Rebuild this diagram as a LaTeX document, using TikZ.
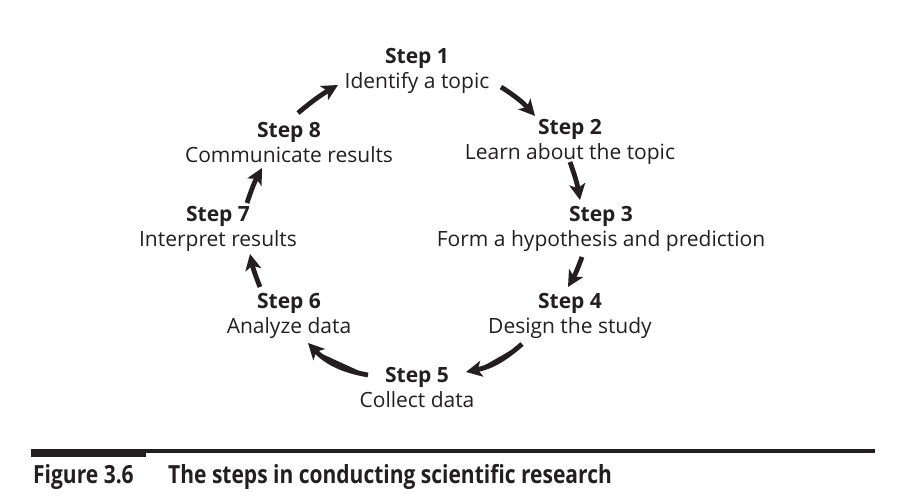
\documentclass[tikz,border=0pt]{standalone}
\usepackage{fontspec}
\setmainfont{Open Sans}
\newfontfamily\capfont[FakeStretch=0.84]{Open Sans}
\usetikzlibrary{arrows.meta}
\definecolor{ink}{HTML}{231F20}

\begin{document}
\begin{tikzpicture}[x=1pt,y=-1pt,>={Stealth[length=16pt,width=16pt,inset=4pt]},
        stepnode/.style={align=center,inner sep=0pt,text=ink,font=\fontsize{21}{25}\selectfont},
        flow/.style={->,line width=4.8pt,draw=ink,fill=ink},
        capnode/.style={anchor=base west,inner sep=0pt,text=ink,font=\capfont\bfseries\fontsize{25}{30}\selectfont}]
        \useasboundingbox (0,0) rectangle (908,503);
        \node (s1) [stepnode] at (417,71) {\textbf{Step 1}\\Identify a topic};
        \node (s2) [stepnode] at (570,142) {\textbf{Step 2}\\Learn about the topic};
        \node (s3) [stepnode] at (601,229) {\textbf{Step 3}\\Form a hypothesis and prediction};
        \node (s4) [stepnode] at (570,316) {\textbf{Step 4}\\Design the study};
        \node (s5) [stepnode] at (417,387) {\textbf{Step 5}\\Collect data};
        \node (s6) [stepnode] at (289,316) {\textbf{Step 6}\\Analyze data};
        \node (s7) [stepnode] at (218,229) {\textbf{Step 7}\\Interpret results};
        \node (s8) [stepnode] at (289,142) {\textbf{Step 8}\\Communicate results};

        \draw[flow] ([shift={(84,16)}]s1.center) to[bend left=8] ([shift={(-35,-26)}]s2.center);
        \draw[flow] ([shift={(0,20)}]s2.center) to[bend left=5] ([shift={(-21,-29)}]s3.center);
        \draw[flow] ([shift={(-19,28)}]s3.center) to[bend left=5] ([shift={(-2,-29)}]s4.center);
        \draw[flow] ([shift={(-48,28)}]s4.center) to[bend left=15] ([shift={(49,-15)}]s5.center);
        \draw[flow] ([shift={(-49,-12)}]s5.center) to[bend left=18] ([shift={(19,27)}]s6.center);
        \draw[flow] ([shift={(-29,-29)}]s6.center) to[bend left=5] ([shift={(32,25)}]s7.center);
        \draw[flow] ([shift={(29,-26)}]s7.center) to[bend left=5] ([shift={(-27,26)}]s8.center);
        \draw[flow] ([shift={(9,-29)}]s8.center) to[bend left=5] ([shift={(-79,14)}]s1.center);

        % caption
        \fill[ink] (31,449) rectangle (146,457);
        \fill[ink] (146,449) rectangle (875,453);
        \node (fignum) [capnode] at (33,483) {Figure 3.6};
        \node (figtitle) [capnode] at (168,483) {The steps in conducting scientific research};
    \end{tikzpicture}
\end{document}
